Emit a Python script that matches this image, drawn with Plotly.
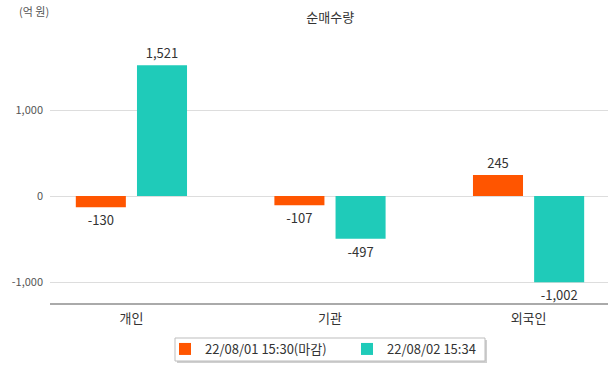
import plotly.graph_objects as go

categories = ["개인", "기관", "외국인"]
series_names = ["22/08/01 15:30(마감)", "22/08/02 15:34"]
values_day1 = [-130, -107, 245]
values_day2 = [1521, -497, -1002]
colors = ["#ff5500", "#1fcbb9"]
tick_vals = [-1000, 0, 1000]
tick_text = ["-1,000", "0", "1,000"]

FONT = "Noto Sans CJK KR"
W, H = 615, 368
ML, MR, MT, MB = 50, 7, 40, 65
PW, PH = W - ML - MR, H - MT - MB


def px_x(p):
    return (p - ML) / PW


def px_y(p):
    return (H - MB - p) / PH


fig = go.Figure()
for name, vals, col, off in [(series_names[0], values_day1, colors[0], -0.28),
                             (series_names[1], values_day2, colors[1], 0.028)]:
    fig.add_trace(go.Bar(
        x=categories, y=vals, name=name, marker=dict(color=col, line=dict(width=0)),
        width=0.252, offset=off,
        text=[f"{v:,}" for v in vals], textposition="outside",
        textfont=dict(size=13, color="#333333", family=FONT),
        cliponaxis=False,
    ))

shapes = [
    dict(type="rect", xref="paper", yref="paper", x0=px_x(177), x1=px_x(487),
         y0=px_y(340), y1=px_y(363), fillcolor="#cfcfcf", line=dict(width=0), layer="above"),
    dict(type="rect", xref="paper", yref="paper", x0=px_x(175), x1=px_x(485),
         y0=px_y(338), y1=px_y(361), fillcolor="white", line=dict(color="#bdbdbd", width=1),
         layer="above"),
]

fig.update_layout(
    width=W, height=H,
    margin=dict(l=ML, r=MR, t=MT, b=MB, autoexpand=False),
    paper_bgcolor="white", plot_bgcolor="white",
    font=dict(family=FONT, color="#333333"),
    barmode="group",
    showlegend=True,
    shapes=shapes,
    title=dict(text="순매수량", x=0.537, xanchor="center", y=0.952, yanchor="middle",
               font=dict(size=13, color="#333333", family=FONT)),
    legend=dict(orientation="h", x=px_x(165), xanchor="left", y=px_y(334), yanchor="top",
                borderwidth=0, bgcolor="rgba(0,0,0,0)",
                font=dict(size=13, color="#333333", family=FONT),
                entrywidth=137, entrywidthmode="pixels", traceorder="normal"),
    xaxis=dict(range=[-0.41, 2.40], showgrid=False, showline=True, linecolor="#aaaaaa",
               linewidth=1.5, ticks="", ticklabelstandoff=3,
               tickfont=dict(size=13, color="#333333", family=FONT),
               fixedrange=True, automargin=False),
    yaxis=dict(range=[-1244, 1814], tickvals=tick_vals, ticktext=tick_text,
               showgrid=True, gridcolor="#dddddd", gridwidth=1,
               zeroline=True, zerolinecolor="#dddddd", zerolinewidth=1,
               showline=False, ticks="", ticklabelstandoff=6,
               tickfont=dict(size=11, color="#555555", family=FONT), fixedrange=True,
               automargin=False),
    annotations=[dict(text="(억 원)", xref="paper", yref="paper", x=-0.029, y=1.0, xanchor="center",
                      yanchor="bottom", yshift=19, showarrow=False,
                      font=dict(size=11, color="#555555", family=FONT))],
)

fig.write_html("out.html", config={"displayModeBar": False},
               post_script="document.body.style.margin='0';document.body.style.padding='0';")
